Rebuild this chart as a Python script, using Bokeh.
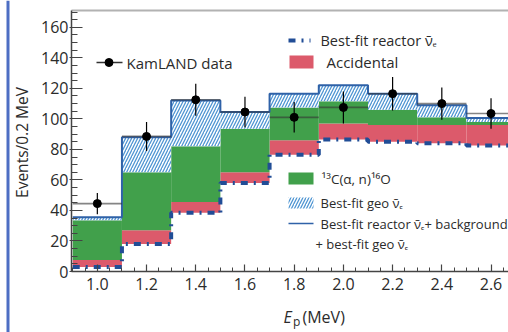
import numpy as np
from bokeh.plotting import figure
from bokeh.models import Range1d, SingleIntervalTicker, PrintfTickFormatter
from bokeh.core.properties import value
from bokeh.embed import file_html
from bokeh.resources import INLINE

# Prompt-energy binning (MeV)
bin_edges = [0.9, 1.1, 1.3, 1.5, 1.7, 1.9, 2.1, 2.3, 2.5, 2.7]
bin_centers = [1.0, 1.2, 1.4, 1.6, 1.8, 2.0, 2.2, 2.4, 2.6]

# Stacked expectation components (events / 0.2 MeV)
reactor = [3.0, 18.0, 38.5, 58.0, 76.5, 86.5, 85.0, 84.0, 82.5]
accidental = [4.5, 9.0, 7.0, 7.0, 9.5, 10.5, 11.0, 12.0, 13.5]
carbon_alpha_n = [26.0, 38.0, 36.5, 28.5, 21.5, 14.5, 10.0, 5.0, 2.0]
geo = [2.0, 23.0, 30.0, 11.0, 9.0, 10.5, 10.5, 8.0, 2.5]

# KamLAND measured counts
data_counts = [44.5, 88.5, 112.5, 104.5, 101.0, 107.5, 116.5, 110.0, 103.5]
data_errors = [7.0, 9.5, 10.5, 10.0, 10.0, 10.5, 11.0, 10.5, 10.0]

RED = "#dc5a6b"
GREEN = "#41a04b"
HATCH = "#4f95d2"
TOTAL_BLUE = "#2f62a8"
DASH_BLUE = "#214d96"
TEXT = "#2b2b2b"
AXIS = "#444444"
FONT = "Open Sans"

W, H = 508, 332
# axis box (pixels) and the data values at its edges
LEFT, RIGHT, TOP, BOTTOM = 71, 508, 10, 271
XA, XB = 0.895, 2.671
YA, YB = 0.0, 171.0
SX = (XB - XA) / (RIGHT - LEFT)
SY = (YB - YA) / (BOTTOM - TOP)


def dx(px):
    return XA + (px - LEFT) * SX


def dy(py):
    return YA + (BOTTOM - py) * SY


left = np.array(bin_edges[:-1])
right = np.array(bin_edges[1:])
r_top = np.array(reactor)
a_top = r_top + np.array(accidental)
c_top = a_top + np.array(carbon_alpha_n)
total = c_top + np.array(geo)
counts = np.array(data_counts)
errs = np.array(data_errors)

p = figure(width=W, height=H, x_range=Range1d(dx(0), dx(W)), y_range=Range1d(dy(H), dy(0)),
           output_backend="svg", toolbar_location=None,
           min_border_left=0, min_border_right=0, min_border_top=0, min_border_bottom=0)
p.outline_line_color = None
p.grid.visible = False
p.background_fill_color = "white"
p.border_fill_color = "white"

# stacked components
p.quad(left=left, right=right, bottom=r_top, top=a_top, fill_color=RED, line_color=None)
p.quad(left=left, right=right, bottom=a_top, top=c_top, fill_color=GREEN, line_color=None)
p.quad(left=left, right=right, bottom=c_top, top=total, fill_color="white", line_color=None,
       hatch_pattern="/", hatch_color=HATCH, hatch_weight=1.3, hatch_scale=6)

step_x = list(bin_edges)
p.step(x=step_x, y=list(r_top) + [r_top[-1]], mode="after", line_color=DASH_BLUE,
       line_width=4, line_dash="7 6 2 6")
p.step(x=step_x, y=list(total) + [total[-1]], mode="after", line_color=TOTAL_BLUE, line_width=2)

# data with error bars
p.segment(x0=left, x1=right, y0=counts, y1=counts, line_color="#333333", line_alpha=0.6, line_width=1.6)
p.segment(x0=bin_centers, x1=bin_centers, y0=counts - errs, y1=counts + errs,
          line_color="black", line_width=1.2)
p.scatter(x=bin_centers, y=counts, size=8, color="black")

# axes pinned to the corner of the axis box
p.xaxis.fixed_location = YA
p.xaxis.bounds = (XA, XB)
p.yaxis.fixed_location = XA
p.yaxis.bounds = (YA, YB)
p.xaxis.ticker = SingleIntervalTicker(interval=0.2, num_minor_ticks=4)
p.xaxis.formatter = PrintfTickFormatter(format="%.1f")
p.yaxis.ticker = SingleIntervalTicker(interval=20, num_minor_ticks=4)
for ax in (p.xaxis[0], p.yaxis[0]):
    ax.axis_line_color = AXIS
    ax.axis_line_width = 1.5
    ax.major_tick_line_color = AXIS
    ax.minor_tick_line_color = AXIS
    ax.major_tick_line_width = 1.2
    ax.minor_tick_line_width = 1.0
    ax.major_label_text_font = FONT
    ax.major_label_text_font_size = "16px"
    ax.major_label_text_color = TEXT

p.yaxis.major_tick_in = 11
p.yaxis.major_tick_out = 2
p.yaxis.minor_tick_in = 6
p.yaxis.minor_tick_out = 0
p.yaxis.major_label_standoff = 1

p.xaxis.major_tick_in = 7
p.xaxis.major_tick_out = 0
p.xaxis.minor_tick_in = 4
p.xaxis.minor_tick_out = 0
p.xaxis.major_label_standoff = 6

# top frame line and the page edge bar on the left
p.segment(x0=[XA], x1=[XB], y0=[YB], y1=[YB], line_color="#b2b2b2", line_width=2)
p.quad(left=[dx(6)], right=[dx(9)], bottom=[dy(H)], top=[dy(0)], fill_color="#4d6ec3", line_color=None)

# axis titles
p.text(x=[dx(21)], y=[dy(142)], text=["Events/0.2 MeV"], angle=np.pi / 2, text_font=value(FONT),
       text_font_size="15.5px", text_color=TEXT, text_align="center", text_baseline="middle")
p.text(x=[dx(283)], y=[dy(316)], text=["E"], text_font=value(FONT), text_font_size="16px",
       text_font_style="italic", text_color=TEXT, text_baseline="middle")
p.text(x=[dx(292.5)], y=[dy(321)], text=["p"], text_font=value(FONT), text_font_size="12px",
       text_color=TEXT, text_baseline="middle")
p.text(x=[dx(302)], y=[dy(316)], text=["(MeV)"], text_font=value(FONT), text_font_size="16px",
       text_color=TEXT, text_baseline="middle")


# legend entries
def legend_text(px, py, txt, size="15px"):
    p.text(x=[dx(px)], y=[dy(py)], text=[txt], text_font=value(FONT), text_font_size=size,
           text_color=TEXT, text_baseline="middle", text_align="left")


p.segment(x0=[dx(96)], x1=[dx(122)], y0=[dy(62)], y1=[dy(62)], line_color="#333333", line_width=1.4)
p.scatter(x=[dx(108.5)], y=[dy(62)], size=8, color="black")
legend_text(126, 62, "KamLAND data")

p.segment(x0=[dx(288)], x1=[dx(310)], y0=[dy(40)], y1=[dy(40)], line_color=DASH_BLUE,
          line_width=4, line_dash="7 6 2 6")
legend_text(320, 40, "Best-fit reactor \u03bd\u0304\u2091", "14.5px")

p.quad(left=[dx(289)], right=[dx(313)], top=[dy(55)], bottom=[dy(68)], fill_color=RED, line_color=None)
legend_text(326, 61, "Accidental")

p.quad(left=[dx(288)], right=[dx(313)], top=[dy(172)], bottom=[dy(184)], fill_color=GREEN, line_color=None)
legend_text(321, 178, "\u00b9\u00b3C(\u03b1, n)\u00b9\u2076O", "13.5px")

p.quad(left=[dx(288)], right=[dx(313)], top=[dy(197)], bottom=[dy(208)], fill_color="white",
       line_color=None, hatch_pattern="/", hatch_color=HATCH, hatch_weight=1.3, hatch_scale=6)
legend_text(320, 202, "Best-fit geo \u03bd\u0304\u2091", "13px")

p.segment(x0=[dx(288)], x1=[dx(313)], y0=[dy(223)], y1=[dy(223)], line_color=TOTAL_BLUE, line_width=1.6)
legend_text(320, 223, "Best-fit reactor \u03bd\u0304\u2091+ background", "13px")
legend_text(315, 243, "+ best-fit geo \u03bd\u0304\u2091", "13px")

open("out.html", "w").write(file_html(p, INLINE))
